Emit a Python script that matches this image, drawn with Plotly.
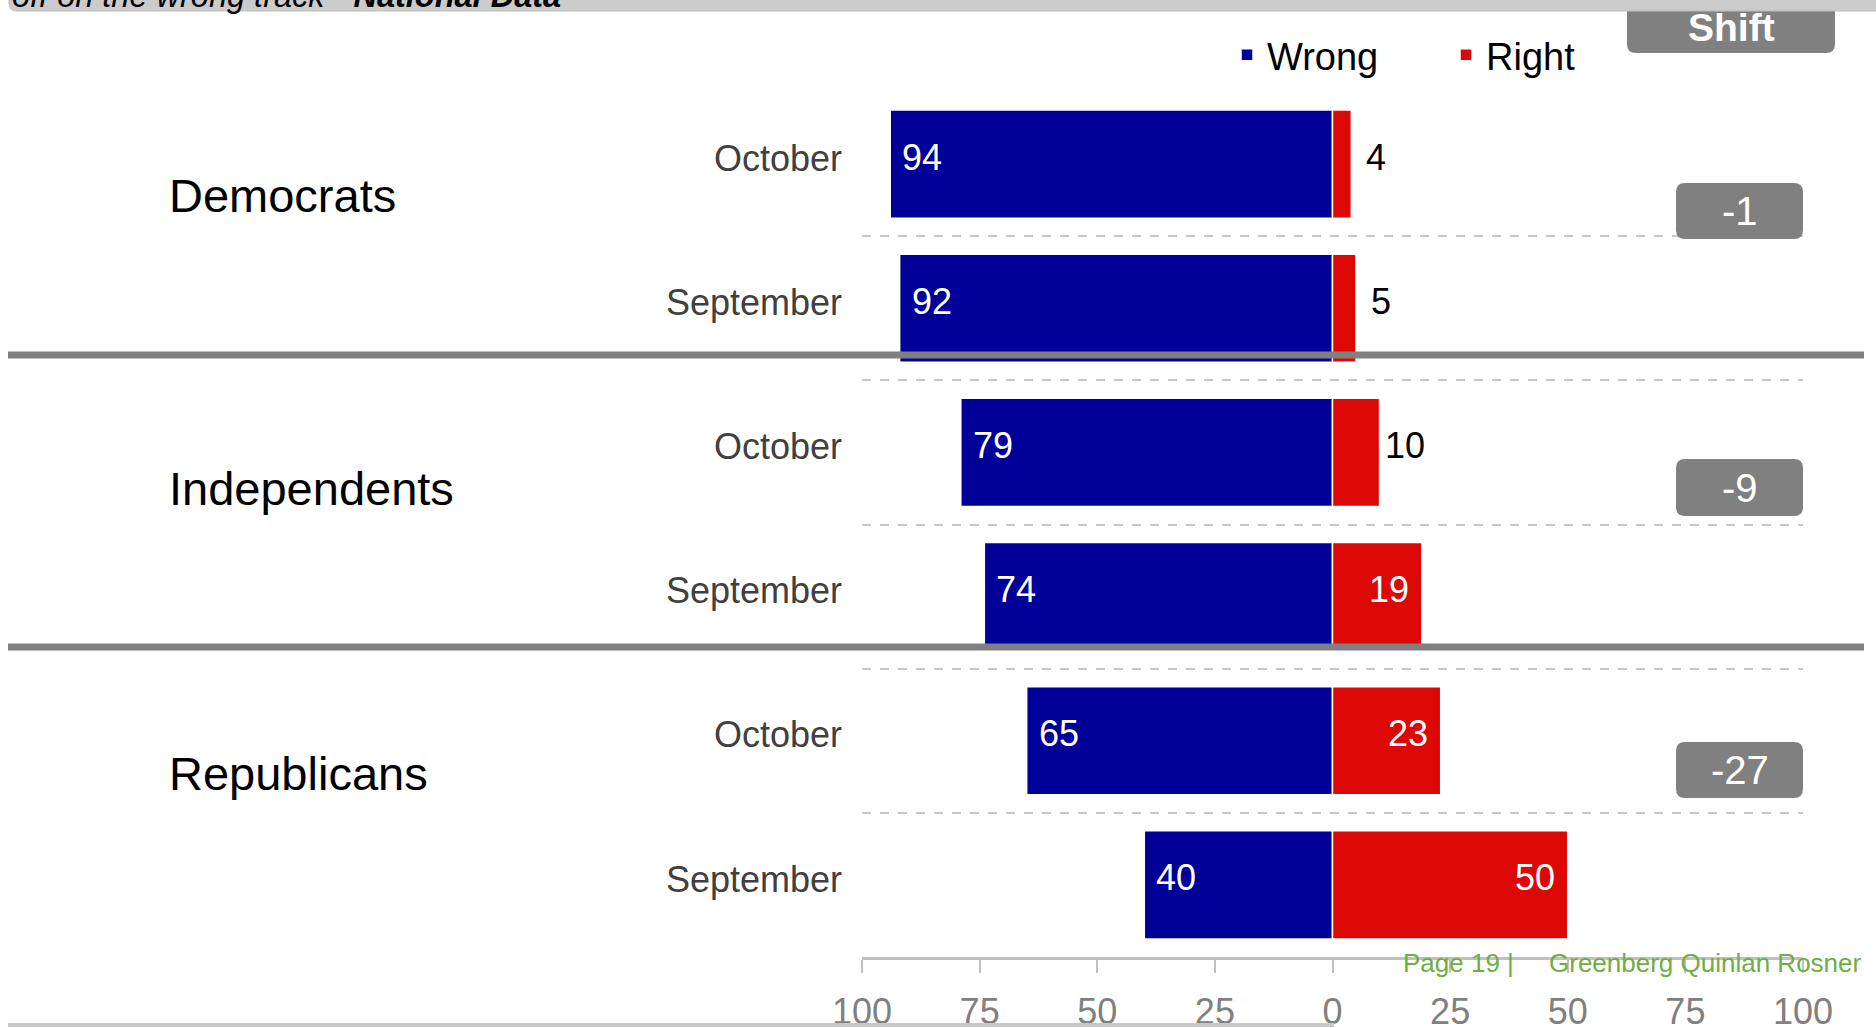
import plotly.graph_objects as go

# chart values
groups = ["Democrats", "Independents", "Republicans"]
months = ["October", "September"]
wrong = [94, 92, 79, 74, 65, 40]
right = [4, 5, 10, 19, 23, 50]
shift = [-1, -9, -27]
tick_vals = [-100, -75, -50, -25, 0, 25, 50, 75, 100]
tick_text = ["100", "75", "50", "25", "0", "25", "50", "75", "100"]

W, H = 1876, 1028
FONT = "Liberation Sans, Arial, sans-serif"
BLUE = "#000099"
RED = "#DD0806"
GREY = "#808080"

rows = list(range(len(wrong)))
row_labels = [m for g in groups for m in months]


def px(x):
    return x / W


def py(y):
    return 1 - y / H


def rounded_box(x0, y0, x1, y1, r):
    pts = [("M", x0 + r, y0), ("L", x1 - r, y0), ("Q", x1, y0, x1, y0 + r),
           ("L", x1, y1 - r), ("Q", x1, y1, x1 - r, y1), ("L", x0 + r, y1),
           ("Q", x0, y1, x0, y1 - r), ("L", x0, y0 + r), ("Q", x0, y0, x0 + r, y0)]
    out = []
    for p in pts:
        cmd, vals = p[0], p[1:]
        coords = []
        for i in range(0, len(vals), 2):
            coords.append(f"{px(vals[i]):.5f},{py(vals[i + 1]):.5f}")
        out.append(cmd + " ".join(coords))
    return " ".join(out) + " Z"


fig = go.Figure()
fig.add_trace(go.Bar(
    name="Wrong", y=rows, x=[-v for v in wrong], orientation="h",
    marker=dict(color=BLUE, line=dict(color="white", width=1.5)), width=0.75,
))
fig.add_trace(go.Bar(
    name="Right", y=rows, x=right, orientation="h",
    marker=dict(color=RED, line=dict(color="white", width=1.5)), width=0.75,
))

ann = []
# value labels
for r, v in zip(rows, wrong):
    ann.append(dict(x=-v, y=r, xref="x", yref="y", text=str(v), showarrow=False,
                    xanchor="center", xshift=32, yshift=7,
                    font=dict(family=FONT, size=36, color="white")))
for r, v in zip(rows, right):
    inside = v > 15
    ann.append(dict(x=v, y=r, xref="x", yref="y", text=str(v), showarrow=False,
                    xanchor="center", xshift=-33 if inside else 25, yshift=7,
                    font=dict(family=FONT, size=36, color="white" if inside else "black")))

# group names and shift boxes
group_label_y = [195, 488, 773]
shift_box_y = [(183, 239), (459, 516), (742, 798)]
shapes = []
for g, ly, (b0, b1), s in zip(groups, group_label_y, shift_box_y, shift):
    ann.append(dict(x=px(167), y=py(ly), xref="paper", yref="paper", text=g,
                    showarrow=False, xanchor="left", yanchor="middle",
                    font=dict(family=FONT, size=47, color="black")))
    shapes.append(dict(type="path", path=rounded_box(1676, b0, 1803, b1, 9),
                       xref="paper", yref="paper", fillcolor=GREY, line=dict(width=0),
                       layer="above"))
    ann.append(dict(x=px(1739.5), y=py((b0 + b1) / 2), xref="paper", yref="paper",
                    text=str(s), showarrow=False, xanchor="center", yanchor="middle",
                    font=dict(family=FONT, size=40, color="white")))

# thick separators between groups
for sy in [355, 647]:
    shapes.append(dict(type="line", x0=px(8), x1=px(1864), y0=py(sy), y1=py(sy),
                       xref="paper", yref="paper", line=dict(color=GREY, width=7),
                       layer="above"))

# bottom light line
shapes.append(dict(type="line", x0=px(8), x1=px(1334), y0=py(1025), y1=py(1025),
                   xref="paper", yref="paper", line=dict(color="#c8c8c8", width=4)))

# shift header box and top band
shapes.append(dict(type="path", path=rounded_box(1627, -10, 1835, 53, 9),
                   xref="paper", yref="paper", fillcolor=GREY, line=dict(width=0),
                   layer="above"))
shapes.append(dict(type="path", path=rounded_box(9, -20, 1890, 11, 8),
                   xref="paper", yref="paper", fillcolor="#cbcbcb",
                   line=dict(color="#bdbdbd", width=1), layer="above"))

ann.append(dict(x=px(1731), y=py(27), xref="paper", yref="paper", text="<b>Shift</b>",
                showarrow=False, xanchor="center", yanchor="middle",
                font=dict(family=FONT, size=39, color="white")))
ann.append(dict(x=px(10), y=py(16), xref="paper", yref="paper",
                text="<i>off on the wrong track - <b>National Data</b></i>",
                showarrow=False, xanchor="left", yanchor="bottom",
                font=dict(family=FONT, size=32.5, color="black")))
ann.append(dict(x=px(1401), y=py(963), xref="paper", yref="paper", text="Page 19 |",
                showarrow=False, xanchor="left", yanchor="middle",
                font=dict(family=FONT, size=26, color="#70AD47")))
ann.append(dict(x=px(1547), y=py(963), xref="paper", yref="paper",
                text="Greenberg Quinlan Rosner",
                showarrow=False, xanchor="left", yanchor="middle",
                font=dict(family=FONT, size=26, color="#70AD47")))

fig.update_layout(
    width=W, height=H,
    margin=dict(l=0, r=0, t=0, b=0, autoexpand=False),
    paper_bgcolor="white", plot_bgcolor="white",
    barmode="overlay",
    font=dict(family=FONT),
    showlegend=True,
    legend=dict(orientation="h", x=px(1227), y=py(55), xanchor="left", yanchor="middle",
                font=dict(family=FONT, size=38, color="black"),
                entrywidth=174, bgcolor="rgba(0,0,0,0)", traceorder="normal"),
    annotations=ann,
    shapes=shapes,
)
fig.update_xaxes(
    domain=[px(862), px(1803)], range=[-100, 100], automargin=False,
    tickvals=tick_vals, ticktext=tick_text,
    showgrid=False, zeroline=False,
    showline=True, linecolor="#c0c0c0", linewidth=3,
    ticks="outside", ticklen=13, tickwidth=2, tickcolor="#c0c0c0",
    ticklabelstandoff=8,
    tickfont=dict(family=FONT, size=36, color=GREY),
)
fig.update_yaxes(
    domain=[py(957), py(92)], range=[5.5, -0.5], automargin=False,
    tickvals=rows, ticktext=row_labels,
    showgrid=False, zeroline=False, showline=False, ticks="",
    ticklabelstandoff=19, ticklabelshift=6,
    tickfont=dict(family=FONT, size=36, color="#404040"),
    minor=dict(tickvals=[r - 0.5 for r in rows], showgrid=True, griddash="dash",
               gridcolor="#c8c8c8", gridwidth=1.5, ticks=""),
)

# the page's default body margin would push the fixed-size figure off by 8px
fig.write_html("out.html", config={"displayModeBar": False},
               post_script="document.body.style.margin='0';document.body.style.overflow='hidden';")
